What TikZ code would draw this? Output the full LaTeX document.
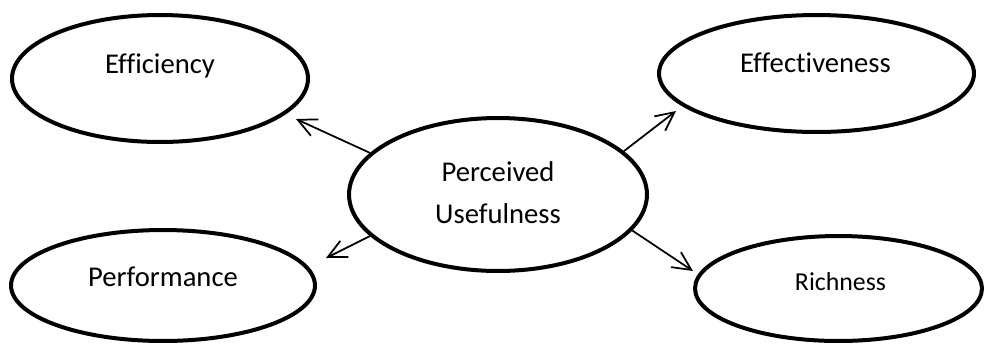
\documentclass[tikz,border=0pt]{standalone}
\usepackage{fontspec}
\setmainfont{Carlito}[Ligatures=NoCommon]
\usetikzlibrary{shapes.geometric}
\usetikzlibrary{arrows.meta}

\begin{document}
\begin{tikzpicture}[x=0.02cm, y=-0.02cm,
    oval/.style={draw, ellipse, line width=0.08cm, inner sep=0pt},
    lbl/.style={font=\fontsize{16.3}{23.9}\selectfont, align=center, inner sep=0pt},
    link/.style={-{Straight Barb[length=0.37cm,width=0.36cm]}, line width=0.035cm}]
  \useasboundingbox (0,0) rectangle (984,346);
  % the five ovals
  \node[oval, minimum width=5.92cm, minimum height=2.54cm] (eff) at (160,78.5) {};
  \node[oval, minimum width=6.30cm, minimum height=2.34cm] (effv) at (816.5,73.5) {};
  \node[oval, minimum width=5.96cm, minimum height=3.06cm] (pu) at (498,194.5) {};
  \node[oval, minimum width=6.08cm, minimum height=2.22cm] (perf) at (163,285.5) {};
  \node[oval, minimum width=5.74cm, minimum height=2.10cm] (rich) at (838.5,288.5) {};
  % their texts
  \node[lbl] (effTxt) at (160,66) {Efficiency};
  \node[lbl] (effvTxt) at (815.5,62.5) {Effectiveness};
  \node[lbl] (puTxt) at (498,192.5) {Perceived\\Usefulness};
  \node[lbl] (perfTxt) at (163,277) {Performance};
  \node[lbl, font=\fontsize{14.7}{18}\selectfont] (richTxt) at (840.5,281.5) {Richness};
  % arrow tips
  \coordinate (effTip) at (296,119);
  \coordinate (effvTip) at (676,111);
  \coordinate (perfTip) at (326,258);
  \coordinate (richTip) at (693,271);
  \draw[link] (pu.162) -- (effTip);
  \draw[link] (pu.19) -- (effvTip);
  \draw[link] (pu.-162) -- (perfTip);
  \draw[link] (pu.-15.4) -- (richTip);
\end{tikzpicture}
\end{document}
